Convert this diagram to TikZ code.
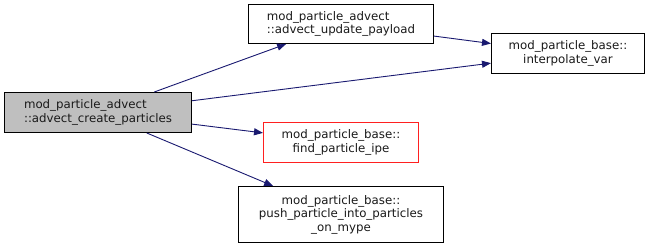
\documentclass[tikz,border=0pt]{standalone}
\usepackage{fontspec}
\setmainfont{DejaVu Sans}
\usetikzlibrary{arrows.meta}
\definecolor{edgeblue}{HTML}{191970}
\definecolor{boxgray}{HTML}{BFBFBF}
\definecolor{boxred}{HTML}{FF2020}
\definecolor{txt}{HTML}{1A1A1A}
\begin{document}
\begin{tikzpicture}[x=1pt,y=1pt,
  box/.style={draw, line width=1pt, fill=white, inner sep=0pt, font=\fontsize{11.8pt}{13.5pt}\selectfont, text=txt},
  redbox/.style={box, color=boxred, fill=white, text=txt},
  edge/.style={draw=edgeblue, line width=0.9pt, -{Triangle[length=9pt,width=7pt]}, color=edgeblue}]
\useasboundingbox (0,0) rectangle (649,250);
\node[box, fill=boxgray, minimum width=187pt, minimum height=40pt, align=left] (A) at (98,137.5) {mod\_particle\_advect\\::advect\_create\_particles};
\node[box, minimum width=185pt, minimum height=39pt, align=left] (B) at (341,226) {mod\_particle\_advect\\::advect\_update\_payload};
\node[box, minimum width=153pt, minimum height=40pt, align=center] (C) at (568,196.5) {mod\_particle\_base::\\interpolate\_var};
\node[redbox, minimum width=155pt, minimum height=40pt, align=center] (D) at (341,107.5) {mod\_particle\_base::\\find\_particle\_ipe};
\node[box, minimum width=205pt, minimum height=56pt, align=center] (E) at (341,35.5) {mod\_particle\_base::\hspace{40pt}\\push\_particle\_into\_particles\\\_on\_mype};
\draw[edge] (A) -- (B);
\draw[edge] (B) -- (C);
\draw[edge] (A) -- (C);
\draw[edge] (A) -- (D);
\draw[edge] (A) -- (E);
\end{tikzpicture}
\end{document}
